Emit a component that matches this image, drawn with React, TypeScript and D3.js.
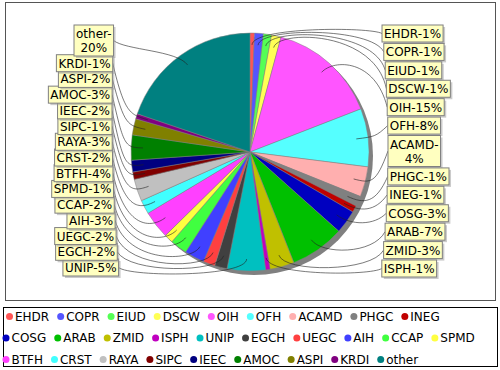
import React from 'react';
import * as d3 from 'd3';

const categories = ["EHDR", "COPR", "EIUD", "DSCW", "OIH", "OFH", "ACAMD", "PHGC", "INEG", "COSG",
    "ARAB", "ZMID", "ISPH", "UNIP", "EGCH", "UEGC", "AIH", "CCAP", "SPMD", "BTFH",
    "CRST", "RAYA", "SIPC", "IEEC", "AMOC", "ASPI", "KRDI", "other"];
const values = [0.6, 1.2, 1.1, 1.3, 14.9, 7.9, 4.1, 1.4, 0.9, 3.2,
    7.4, 3.3, 0.6, 5.2, 1.7, 1.6, 2.7, 2.3, 1.2, 3.8,
    1.9, 3.0, 1.0, 1.6, 3.4, 2.2, 0.7, 19.8];
// legend rows start at these categories
const legendRowStarts = ["COSG", "BTFH"];

// jfreechart default paint sequence
const palette = ["#FF5555", "#5555FF", "#55FF55", "#FFFF55", "#FF55FF", "#55FFFF", "#FFAFAF", "#808080",
    "#C00000", "#0000C0", "#00C000", "#C0C000", "#C000C0", "#00C0C0", "#404040",
    "#FF4040", "#4040FF", "#40FF40", "#FFFF40", "#FF40FF", "#40FFFF", "#C0C0C0",
    "#800000", "#000080", "#008000", "#808000", "#800080", "#008080"];

const W = 500, H = 370;
const cx = 250, cy = 152, R = 119;
const FONT = "'DejaVu Sans', sans-serif";

let ctx: CanvasRenderingContext2D | null = null;
function measure(t: string) {
    if (!ctx) {
        ctx = document.createElement('canvas').getContext('2d');
        ctx!.font = `12px ${FONT}`;
    }
    return ctx!.measureText(t).width;
}

type Label = {
    i: number; mid: number; right: boolean; lines: string[];
    w: number; h: number; top: number; x: number;
};

function App() {
    const total = d3.sum(values);
    const arcs = d3.pie<number>().sort(null).value(d => d)(values);
    const arc = d3.arc<d3.PieArcDatum<number>>().innerRadius(0).outerRadius(R);

    const labels: Label[] = arcs.map((a, i) => {
        const mid = (a.startAngle + a.endAngle) / 2;
        const text = `${categories[i]}-${Math.round(values[i] / total * 100)}%`;
        const k = text.indexOf('-') + 1;
        const lines = text.length > 7 ? [text.slice(0, k), text.slice(k)] : [text];
        const w = d3.max(lines, measure)! + 4;
        return { i, mid, right: mid < Math.PI, lines, w, h: lines.length * 14 + 3, top: 0, x: 0 };
    });

    const rightSide = labels.filter(l => l.right).sort((a, b) => a.mid - b.mid);
    const leftSide = labels.filter(l => !l.right).sort((a, b) => b.mid - a.mid);

    // spread evenly over the available height
    const spread = (list: Label[], top: number, bottom: number) => {
        const sumH = d3.sum(list, l => l.h);
        const gap = (bottom - top - sumH) / (list.length - 1);
        let y = top;
        list.forEach(l => { l.top = y; y += l.h + gap; });
    };
    spread(rightSide, 25, 277);
    spread(leftSide, 25, 276);

    rightSide.forEach(l => {
        const c = l.top + l.h / 2;
        l.x = cx + 138 * Math.sqrt(1 - Math.pow((c - 150) / 400, 2));
    });
    leftSide.forEach(l => {
        const c = l.top + l.h / 2;
        l.x = cx - 138 * Math.sqrt(1 - Math.pow((c - 115) / 500, 2));
    });

    const linkPath = (l: Label) => {
        const dx = Math.sin(l.mid), dy = -Math.cos(l.mid);
        const lx = cx + dx * R * 0.9, ly = cy + dy * R * 0.9;
        const ex = cx + dx * R / 0.95, ey = cy + dy * R / 0.95;
        const tx = l.x, ty = l.top + l.h / 2;
        const ax = l.right ? tx - 12 : tx + 12;
        const p = d3.path();
        p.moveTo(tx, ty);
        p.bezierCurveTo(ax, ey, ex, ey, lx, ly);
        return p.toString();
    };

    // legend rows
    const legendItems: { i: number; x: number; row: number }[] = [];
    let lx = 5, row = 0;
    categories.forEach((c, i) => {
        if (legendRowStarts.includes(c)) { row++; lx = 1.5; }
        legendItems.push({ i, x: lx, row });
        lx += measure(c) + 17;
    });

    return (
        <svg width={W} height={H} style={{ position: 'absolute', left: 0, top: 0, fontFamily: FONT }}>
            <rect x={0} y={0} width={W} height={H} fill="#fff" />
            <rect x={5.5} y={2.5} width={490} height={298} fill="#fff" stroke="#555" />

            <circle cx={cx + 4} cy={cy + 4} r={R} fill="#808080" />
            <g transform={`translate(${cx},${cy})`}>
                {arcs.map((a, i) => (
                    <path key={i} d={arc(a)!} fill={palette[i]} stroke="#808080" strokeWidth={0.5} />
                ))}
            </g>

            <g fill="none" stroke="#222" strokeWidth={0.6}>
                {labels.map(l => <path key={l.i} d={linkPath(l)} />)}
            </g>

            {labels.map(l => {
                const bx = l.right ? l.x : l.x - l.w;
                return (
                    <g key={l.i}>
                        <rect x={bx + 2} y={l.top + 2} width={l.w} height={l.h} fill="rgba(151,151,151,0.5)" />
                        <rect x={bx} y={l.top} width={l.w} height={l.h} fill="#FFFFC0" stroke="#808080" strokeWidth={1} />
                        {l.lines.map((t, j) => (
                            <text key={j} x={bx + l.w / 2} y={l.top + 1.5 + j * 14 + 11.5} textAnchor="middle"
                                fontSize={12} fill="#000">{t}</text>
                        ))}
                    </g>
                );
            })}

            <rect x={3.5} y={307.5} width={494} height={59} fill="#fff" stroke="#000" />
            {legendItems.map(it => {
                const y = 316.5 + it.row * 21.5;
                return (
                    <g key={it.i}>
                        <circle cx={it.x + 4.5} cy={y} r={3.5} fill={palette[it.i]} />
                        <text x={it.x + 10} y={y + 4.3} fontSize={12} fill="#000">{categories[it.i]}</text>
                    </g>
                );
            })}
        </svg>
    );
}

export default App;
